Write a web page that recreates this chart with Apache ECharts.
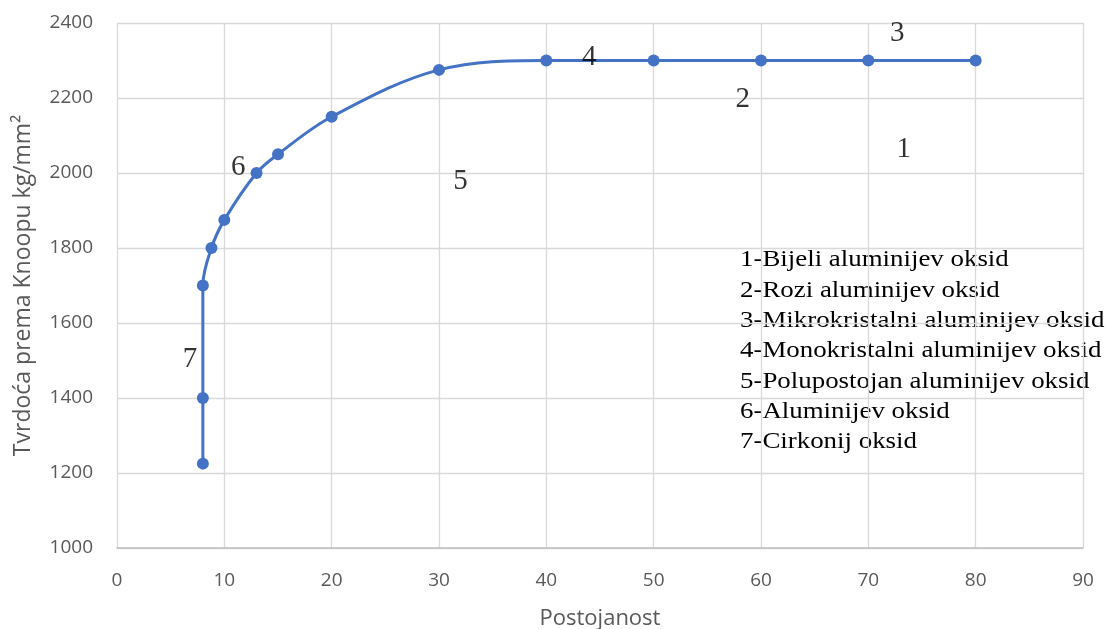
<!DOCTYPE html>
<html><head><meta charset="utf-8">
<script src="https://cdn.jsdelivr.net/npm/echarts@6/dist/echarts.min.js"></script>
<style>html,body{margin:0;padding:0;background:#fff}#c{width:1110px;height:629px}</style>
</head><body><div id="c"></div>
<script>
const xValues = [8, 8, 8, 8.8, 10, 13, 15, 20, 30, 40, 50, 60, 70, 80];
const yValues = [1225, 1400, 1700, 1800, 1875, 2000, 2050, 2150, 2275, 2300, 2300, 2300, 2300, 2300];
const annotationText = ['1', '2', '3', '4', '5', '6', '7'];
const annotationX = [73.3, 58.3, 72.7, 44, 32, 11.3, 6.8];
const annotationY = [2063, 2197, 2371, 2309, 1978, 2015, 1502];
const legendLines = [
  '1-Bijeli aluminijev oksid',
  '2-Rozi aluminijev oksid',
  '3-Mikrokristalni aluminijev oksid',
  '4-Monokristalni aluminijev oksid',
  '5-Polupostojan aluminijev oksid',
  '6-Aluminijev oksid',
  '7-Cirkonij oksid'
];
const xTitle = 'Postojanost';
const yTitle = 'Tvrdoća prema Knoopu kg/mm²';

const chart = echarts.init(document.getElementById('c'), null, {renderer: 'canvas'});
const gridColor = '#d9d9d9';
const textColor = '#595959';
chart.setOption({
  animation: false,
  backgroundColor: '#fff',
  grid: {left: 117, right: 27, top: 23, bottom: 81, containLabel: false, outerBoundsMode: 'none'},
  xAxis: {
    type: 'value', min: 0, max: 90, interval: 10,
    name: xTitle, nameLocation: 'middle', nameGap: 60,
    nameTextStyle: {color: textColor, fontSize: 22, fontFamily: 'Open Sans'},
    axisLine: {show: true, lineStyle: {color: '#bfbfbf', width: 1.5}},
    axisTick: {show: false},
    axisLabel: {color: textColor, fontSize: 19, fontFamily: 'Open Sans', margin: 23,
      formatter: v => String(v)},
    splitLine: {show: true, lineStyle: {color: gridColor, width: 1.3}}
  },
  yAxis: {
    type: 'value', min: 1000, max: 2400, interval: 200,
    name: yTitle, nameLocation: 'middle', nameGap: 82, nameRotate: 90,
    nameTextStyle: {color: textColor, fontSize: 23, fontFamily: 'Open Sans'},
    axisLine: {show: false},
    axisTick: {show: false},
    axisLabel: {color: textColor, fontSize: 19, fontFamily: 'Open Sans', margin: 24,
      formatter: v => String(v)},
    splitLine: {show: true, lineStyle: {color: gridColor, width: 1.3}}
  },
  series: [
    {
      type: 'line',
      data: xValues.map((x, i) => [x, yValues[i]]),
      smooth: 0.35,
      symbol: 'circle', symbolSize: 12,
      lineStyle: {color: '#4472C4', width: 3},
      itemStyle: {color: '#4472C4'},
      z: 3
    },
    {
      type: 'scatter',
      data: annotationX.map((x, i) => ({value: [x, annotationY[i]], name: annotationText[i]})),
      symbolSize: 0,
      label: {
        show: true, position: 'inside',
        formatter: p => p.name,
        color: '#000', fontSize: 29, fontFamily: 'Liberation Serif'
      },
      silent: true, z: 4
    }
  ],
  graphic: [{
    type: 'text', x: 740, y: 245, scaleX: 1.12,
    style: {
      text: legendLines.join('\n'),
      fill: '#000', font: '24px "Liberation Serif"', lineHeight: 30.3
    }
  }]
});
</script></body></html>
